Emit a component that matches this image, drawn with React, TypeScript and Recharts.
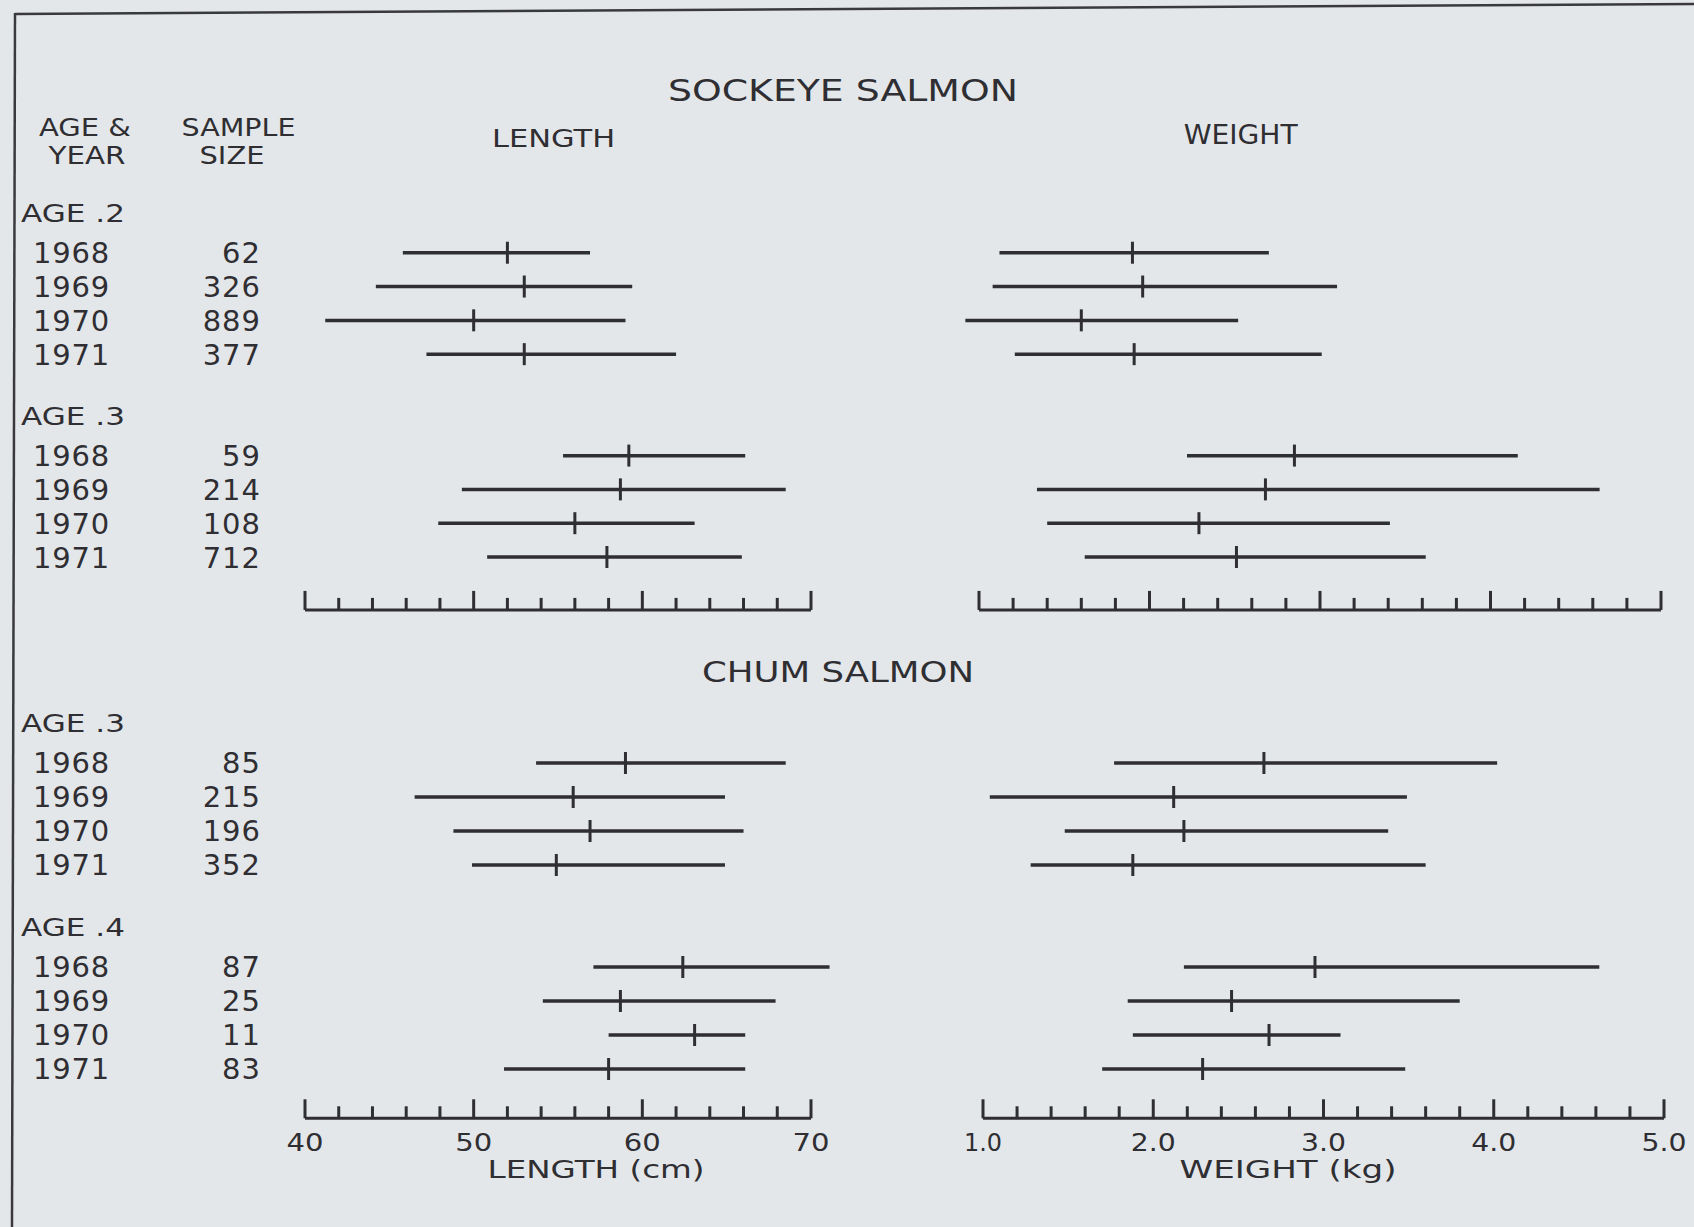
import { ComposedChart, Bar, Scatter, XAxis, YAxis } from "recharts";

const INK = "#2f2e32";
const BG = "#e4e7ea";
const FONT = "'DejaVu Sans', sans-serif";

const years = ["1968", "1969", "1970", "1971"];

// sockeye, age .2
const sockeye2Sizes = [62, 326, 889, 377];
const sockeye2LengthLow = [45.8, 44.2, 41.2, 47.2];
const sockeye2LengthMean = [52.0, 53.0, 50.0, 53.0];
const sockeye2LengthHigh = [56.9, 59.4, 59.0, 62.0];
const sockeye2WeightLow = [1.12, 1.08, 0.92, 1.21];
const sockeye2WeightMean = [1.9, 1.96, 1.6, 1.91];
const sockeye2WeightHigh = [2.7, 3.1, 2.52, 3.01];

// sockeye, age .3
const sockeye3Sizes = [59, 214, 108, 712];
const sockeye3LengthLow = [55.3, 49.3, 47.9, 50.8];
const sockeye3LengthMean = [59.2, 58.7, 56.0, 57.9];
const sockeye3LengthHigh = [66.1, 68.5, 63.1, 65.9];
const sockeye3WeightLow = [2.22, 1.34, 1.4, 1.62];
const sockeye3WeightMean = [2.85, 2.68, 2.29, 2.51];
const sockeye3WeightHigh = [4.16, 4.64, 3.41, 3.62];

// chum, age .3
const chum3Sizes = [85, 215, 196, 352];
const chum3LengthLow = [53.7, 46.5, 48.8, 49.9];
const chum3LengthMean = [59.0, 55.9, 56.9, 54.9];
const chum3LengthHigh = [68.5, 64.9, 66.0, 64.9];
const chum3WeightLow = [1.77, 1.04, 1.48, 1.28];
const chum3WeightMean = [2.65, 2.12, 2.18, 1.88];
const chum3WeightHigh = [4.02, 3.49, 3.38, 3.6];

// chum, age .4
const chum4Sizes = [87, 25, 11, 83];
const chum4LengthLow = [57.1, 54.1, 58.0, 51.8];
const chum4LengthMean = [62.4, 58.7, 63.1, 58.0];
const chum4LengthHigh = [71.1, 67.9, 66.1, 66.1];
const chum4WeightLow = [2.18, 1.85, 1.88, 1.7];
const chum4WeightMean = [2.95, 2.46, 2.68, 2.29];
const chum4WeightHigh = [4.62, 3.8, 3.1, 3.48];

const lengthTicks = [40, 42, 44, 46, 48, 50, 52, 54, 56, 58, 60, 62, 64, 66, 68, 70];
const weightTicks = [
  1.0, 1.2, 1.4, 1.6, 1.8, 2.0, 2.2, 2.4, 2.6, 2.8, 3.0, 3.2, 3.4, 3.6, 3.8, 4.0, 4.2, 4.4, 4.6, 4.8, 5.0,
];

type Row = {
  key: string;
  kind: "header" | "row" | "gap";
  text?: string;
  year?: string;
  size?: number;
  lenLo?: number;
  lenMean?: number;
  lenHi?: number;
  wtLo?: number;
  wtMean?: number;
  wtHi?: number;
};

function buildRows(prefix: string, groups: any[]): Row[] {
  const rows: Row[] = [];
  groups.forEach((g, gi) => {
    if (gi > 0) rows.push({ key: `${prefix}-gap${gi}`, kind: "gap" });
    rows.push({ key: `${prefix}-h${gi}`, kind: "header", text: g.label });
    years.forEach((yr, i) => {
      rows.push({
        key: `${prefix}-${gi}-${yr}`,
        kind: "row",
        year: yr,
        size: g.sizes[i],
        lenLo: g.lLo[i],
        lenMean: g.lMean[i],
        lenHi: g.lHi[i],
        wtLo: g.wLo[i],
        wtMean: g.wMean[i],
        wtHi: g.wHi[i],
      });
    });
  });
  return rows;
}

const sockeyeRows = buildRows("s", [
  {
    label: "AGE .2",
    sizes: sockeye2Sizes,
    lLo: sockeye2LengthLow,
    lMean: sockeye2LengthMean,
    lHi: sockeye2LengthHigh,
    wLo: sockeye2WeightLow,
    wMean: sockeye2WeightMean,
    wHi: sockeye2WeightHigh,
  },
  {
    label: "AGE .3",
    sizes: sockeye3Sizes,
    lLo: sockeye3LengthLow,
    lMean: sockeye3LengthMean,
    lHi: sockeye3LengthHigh,
    wLo: sockeye3WeightLow,
    wMean: sockeye3WeightMean,
    wHi: sockeye3WeightHigh,
  },
]);

const chumRows = buildRows("c", [
  {
    label: "AGE .3",
    sizes: chum3Sizes,
    lLo: chum3LengthLow,
    lMean: chum3LengthMean,
    lHi: chum3LengthHigh,
    wLo: chum3WeightLow,
    wMean: chum3WeightMean,
    wHi: chum3WeightHigh,
  },
  {
    label: "AGE .4",
    sizes: chum4Sizes,
    lLo: chum4LengthLow,
    lMean: chum4LengthMean,
    lHi: chum4LengthHigh,
    wLo: chum4WeightLow,
    wMean: chum4WeightMean,
    wHi: chum4WeightHigh,
  },
]);

const RangeShape = (props: any) => {
  const { x, y, width, height, payload } = props;
  if (!payload || payload.kind !== "row" || !isFinite(x) || !isFinite(width)) return <g />;
  const cy = y + height / 2;
  return <line x1={x} x2={x + width} y1={cy} y2={cy} stroke={INK} strokeWidth={3.5} />;
};

const MeanShape = (props: any) => {
  const { cx, cy, payload } = props;
  if (!payload || payload.kind !== "row" || cx == null || !isFinite(cx)) return <g />;
  return <line x1={cx} x2={cx} y1={cy - 11} y2={cy + 11} stroke={INK} strokeWidth={3} />;
};

type PanelProps = {
  rows: Row[];
  metric: "length" | "weight";
  left: number;
  top: number;
  width: number;
  plotLeft: number;
  plotRight: number;
  band: number;
  padBottom: number;
  ticks: number[];
  domain: [number, number];
  majorStep: number;
  rowLabels: boolean;
  tickLabels: boolean;
};

const TOP_PAD = 24;

function Panel(p: PanelProps) {
  const axisH = p.tickLabels ? 45 : 4;
  const height = TOP_PAD + p.rows.length * p.band + p.padBottom + axisH;
  const rowMap: Record<string, Row> = {};
  p.rows.forEach((r) => (rowMap[r.key] = r));
  const lo = p.metric === "length" ? "lenLo" : "wtLo";
  const hi = p.metric === "length" ? "lenHi" : "wtHi";
  const mean = p.metric === "length" ? "lenMean" : "wtMean";

  const xTick = (t: any) => {
    const v = t.payload.value;
    const major = Math.abs(v / p.majorStep - Math.round(v / p.majorStep)) < 1e-6;
    const label = p.metric === "length" ? String(v) : v.toFixed(1);
    return (
      <g>
        <line x1={t.x} x2={t.x} y1={t.y} y2={t.y - (major ? 19 : 12)} stroke={INK} strokeWidth={3} />
        {p.tickLabels && major && (
          <text
            x={t.x}
            y={t.y + 33}
            textAnchor="middle"
            fontSize={24}
            fontFamily={FONT}
            fill={INK}
            textLength={p.metric === "length" ? 37 : label === "1.0" ? 38 : 45}
            lengthAdjust="spacingAndGlyphs"
          >
            {label}
          </text>
        )}
      </g>
    );
  };

  const yTick = (t: any) => {
    const r = rowMap[t.payload.value];
    if (!r) return <g />;
    if (r.kind === "header")
      return (
        <text
          x={21}
          y={t.y + 3}
          fontSize={25}
          fontFamily={FONT}
          fill={INK}
          textLength={104}
          lengthAdjust="spacingAndGlyphs"
        >
          {r.text}
        </text>
      );
    if (r.kind === "row")
      return (
        <g>
          <text x={33} y={t.y + 10.5} fontSize={29} fontFamily={FONT} fill={INK} letterSpacing={0.8}>
            {r.year}
          </text>
          <text x={261} y={t.y + 10.5} textAnchor="end" fontSize={29} fontFamily={FONT} fill={INK} letterSpacing={1}>
            {r.size}
          </text>
        </g>
      );
    return <g />;
  };

  return (
    <div style={{ position: "absolute", left: p.left, top: p.top - TOP_PAD }}>
      <ComposedChart
        width={p.width}
        height={height}
        data={p.rows}
        layout="vertical"
        margin={{ top: TOP_PAD, bottom: 0, left: p.rowLabels ? 0 : p.plotLeft, right: p.width - p.plotRight }}
      >
        <XAxis
          type="number"
          domain={p.domain}
          ticks={p.ticks}
          allowDataOverflow
          interval={0}
          tickLine={false}
          tickSize={0}
          tickMargin={0}
          axisLine={{ stroke: INK, strokeWidth: 3 }}
          height={axisH}
          tick={xTick}
        />
        <YAxis
          type="category"
          dataKey="key"
          width={p.rowLabels ? p.plotLeft : 0}
          hide={!p.rowLabels}
          interval={0}
          axisLine={false}
          tickLine={false}
          padding={{ top: 0, bottom: p.padBottom }}
          tick={yTick}
        />
        <Bar
          dataKey={(d: Row) => (d.kind === "row" ? [d[lo], d[hi]] : null)}
          barSize={6}
          shape={RangeShape}
          isAnimationActive={false}
        />
        <Scatter dataKey={mean} shape={MeanShape} isAnimationActive={false} />
      </ComposedChart>
    </div>
  );
}

const T = (props: any) => (
  <text fontFamily={FONT} fill={INK} textAnchor="middle" lengthAdjust="spacingAndGlyphs" {...props} />
);

export default function App() {
  return (
    <div
      style={{
        position: "absolute",
        left: 0,
        top: 0,
        width: 1694,
        height: 1227,
        background: BG,
        overflow: "hidden",
        fontFamily: FONT,
      }}
    >
      <style>{`.recharts-wrapper g[clip-path]{clip-path:none !important}`}</style>

      <Panel
        rows={sockeyeRows}
        metric="length"
        left={0}
        top={202}
        width={830}
        plotLeft={305}
        plotRight={811}
        band={33.81}
        padBottom={36}
        ticks={lengthTicks}
        domain={[40, 70]}
        majorStep={10}
        rowLabels
        tickLabels={false}
      />
      <Panel
        rows={sockeyeRows}
        metric="weight"
        left={940}
        top={202}
        width={754}
        plotLeft={39}
        plotRight={721}
        band={33.81}
        padBottom={36}
        ticks={weightTicks}
        domain={[1, 5]}
        majorStep={1}
        rowLabels={false}
        tickLabels={false}
      />
      <Panel
        rows={chumRows}
        metric="length"
        left={0}
        top={712}
        width={830}
        plotLeft={305}
        plotRight={811}
        band={34}
        padBottom={32.3}
        ticks={lengthTicks}
        domain={[40, 70]}
        majorStep={10}
        rowLabels
        tickLabels
      />
      <Panel
        rows={chumRows}
        metric="weight"
        left={940}
        top={712}
        width={754}
        plotLeft={43}
        plotRight={724}
        band={34}
        padBottom={32.3}
        ticks={weightTicks}
        domain={[1, 5]}
        majorStep={1}
        rowLabels={false}
        tickLabels
      />

      <svg
        width={1694}
        height={1227}
        style={{ position: "absolute", left: 0, top: 0, pointerEvents: "none" }}
      >
        <line x1={15} y1={14} x2={1694} y2={4} stroke="#3a3a3d" strokeWidth={2.5} />
        <line x1={15} y1={13} x2={12} y2={1227} stroke="#3a3a3d" strokeWidth={2.5} />

        <T x={843} y={101} fontSize={31} textLength={350}>SOCKEYE SALMON</T>
        <T x={85} y={136} fontSize={24.5} textLength={92}>AGE &amp;</T>
        <T x={87} y={164} fontSize={24.5} textLength={77}>YEAR</T>
        <T x={238.5} y={136} fontSize={24.5} textLength={114}>SAMPLE</T>
        <T x={232} y={164} fontSize={24.5} textLength={65}>SIZE</T>
        <T x={553.6} y={147} fontSize={25.5} textLength={123}>LENGTH</T>
        <T x={1240.7} y={144} fontSize={26} textLength={114}>WEIGHT</T>

        <T x={838} y={682} fontSize={29} textLength={272}>CHUM SALMON</T>

        <T x={596} y={1178} fontSize={24} textLength={217}>LENGTH (cm)</T>
        <T x={1288} y={1178} fontSize={24} textLength={217}>WEIGHT (kg)</T>
      </svg>
    </div>
  );
}
